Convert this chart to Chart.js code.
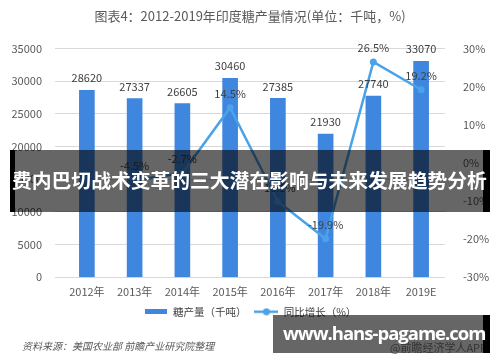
<!DOCTYPE html>
<html>
<head>
<meta charset="utf-8">
<script src="https://cdn.jsdelivr.net/npm/chart.js@4/dist/chart.umd.min.js"></script>
<style>
  html, body { margin: 0; padding: 0; background: #fff; }
  #wrap { position: relative; width: 500px; height: 362px; overflow: hidden; }
  canvas { position: absolute; left: 0; top: 0; }
  .source {
    position: absolute; left: 22px; top: 338px;
    font: italic 10px "Noto Sans CJK SC", sans-serif; color: #595959;
  }
  .app {
    position: absolute; left: 390px; top: 339px;
    font: 11px "Noto Sans CJK SC", sans-serif; color: #7f7f7f;
  }
  .banner {
    position: absolute; left: 10px; top: 150px; width: 480px; height: 62px;
    background: rgba(0,0,0,0.6);
    border-left: 5px solid #000; border-right: 7px solid #000; box-sizing: border-box;
  }
  .banner span {
    position: absolute; left: -3px; top: 18px; white-space: nowrap;
    font: bold 19.8px "Noto Sans CJK SC", sans-serif; color: #fff; line-height: 24px;
  }
  .url {
    position: absolute; left: 273px; top: 315px; width: 217px; height: 38px;
    background: rgba(0,0,0,0.6); border-right: 7px solid #000; box-sizing: border-box;
  }
  .url span {
    position: absolute; left: 10px; top: 6px; white-space: nowrap; letter-spacing: -1px;
    font: bold 18.5px "Open Sans", sans-serif; color: #fff; line-height: 24px;
  }
</style>
</head>
<body>
<div id="wrap">
  <canvas id="chart" width="500" height="362"></canvas>
  <div class="source">资料来源：美国农业部 前瞻产业研究院整理</div>
  <div class="app">@前瞻经济学人APP</div>
  <div class="banner"><span>费内巴切战术变革的三大潜在影响与未来发展趋势分析</span></div>
  <div class="url"><span>www.hans-pagame.com</span></div>
</div>
<script>
// ── data ─────────────────────────────────────────────────────────────────────
const years = ["2012年", "2013年", "2014年", "2015年", "2016年", "2017年", "2018年", "2019E"];
const sugarOutput = [28620, 27337, 26605, 30460, 27385, 21930, 27740, 33070];
const yoyGrowth = [null, -4.5, -2.7, 14.5, -10.1, -19.9, 26.5, 19.2];
const leftTicks = [0, 5000, 10000, 15000, 20000, 25000, 30000, 35000];
const rightTicks = [-30, -20, -10, 0, 10, 20, 30];

const BAR_COLOR = "#3f86de";
const LINE_COLOR = "#4aa2ea";
const TEXT_COLOR = "#595959";
const FONT = "'Noto Sans CJK SC', sans-serif";

// ── legend icons ─────────────────────────────────────────────────────────────
function barIcon() {
    const c = document.createElement("canvas");
    c.width = 22; c.height = 5;
    const g = c.getContext("2d");
    g.fillStyle = BAR_COLOR;
    g.fillRect(0, 0, 22, 5);
    return c;
}
function lineIcon() {
    const c = document.createElement("canvas");
    c.width = 24; c.height = 8;
    const g = c.getContext("2d");
    g.strokeStyle = LINE_COLOR;
    g.lineWidth = 2.5;
    g.beginPath(); g.moveTo(0, 4); g.lineTo(24, 4); g.stroke();
    g.fillStyle = LINE_COLOR;
    g.beginPath(); g.arc(12, 4, 3.5, 0, Math.PI * 2); g.fill();
    return c;
}

// ── value labels ─────────────────────────────────────────────────────────────
const valueLabels = {
    id: "valueLabels",
    afterDatasetsDraw(chart) {
        const ctx = chart.ctx;
        ctx.save();
        ctx.font = "11px " + FONT;
        ctx.fillStyle = "#404040";
        ctx.textAlign = "center";
        ctx.textBaseline = "middle";
        chart.getDatasetMeta(0).data.forEach((el, i) => {
            ctx.fillText(String(sugarOutput[i]), el.x, el.y - 12);
        });
        chart.getDatasetMeta(1).data.forEach((el, i) => {
            if (yoyGrowth[i] === null) return;
            ctx.fillText(yoyGrowth[i].toFixed(1) + "%", el.x, el.y - 14);
        });
        ctx.restore();
    },
};

const ctx = document.getElementById("chart").getContext("2d");
new Chart(ctx, {
    type: "bar",
    data: {
        labels: years,
        datasets: [
            {
                label: "糖产量（千吨）",
                data: sugarOutput,
                backgroundColor: BAR_COLOR,
                barThickness: 15,
                yAxisID: "y",
                order: 1,
            },
            {
                type: "line",
                label: "同比增长（%）",
                data: yoyGrowth,
                borderColor: LINE_COLOR,
                backgroundColor: LINE_COLOR,
                borderWidth: 2.5,
                pointRadius: 3.5,
                pointBorderWidth: 0,
                tension: 0,
                spanGaps: false,
                yAxisID: "y1",
                order: 0,
            },
        ],
    },
    options: {
        responsive: false,
        animation: false,
        layout: { padding: { left: 0, right: 0, top: 0, bottom: 35 } },
        scales: {
            x: {
                grid: { display: false },
                border: { display: false },
                ticks: { color: TEXT_COLOR, font: { family: FONT, size: 11 }, padding: 0 },
            },
            y: {
                position: "left",
                min: 0,
                max: 35000,
                afterBuildTicks: s => { s.ticks = leftTicks.map(v => ({ value: v })); },
                afterFit: s => { s.width = 63; },
                grid: { color: "#d9d9d9", lineWidth: 1 },
                border: { display: false },
                ticks: { color: TEXT_COLOR, font: { family: FONT, size: 11 }, padding: 13, callback: v => String(v) },
            },
            y1: {
                position: "right",
                min: -30,
                max: 30,
                afterBuildTicks: s => { s.ticks = rightTicks.map(v => ({ value: v })); },
                afterFit: s => { s.width = 55; },
                grid: { display: false },
                border: { display: false },
                ticks: { color: TEXT_COLOR, font: { family: FONT, size: 11 }, padding: 10, callback: v => v + "%" },
            },
        },
        plugins: {
            title: {
                display: true,
                text: "图表4：2012-2019年印度糖产量情况(单位：千吨，%)",
                color: TEXT_COLOR,
                font: { family: FONT, size: 13, weight: "normal" },
                padding: { top: 8, bottom: 25 },
            },
            legend: {
                display: true,
                position: "bottom",
                labels: {
                    color: "#404040",
                    font: { family: FONT, size: 10.5 },
                    usePointStyle: true,
                    pointStyleWidth: 24,
                    padding: 8,
                    generateLabels: chart => [
                        { text: "糖产量（千吨）", pointStyle: barIcon(), datasetIndex: 0, fontColor: "#404040", lineWidth: 0 },
                        { text: "同比增长（%）", pointStyle: lineIcon(), datasetIndex: 1, fontColor: "#404040", lineWidth: 0 },
                    ],
                },
            },
            tooltip: { enabled: false },
        },
    },
    plugins: [valueLabels],
});
</script>
</body>
</html>
